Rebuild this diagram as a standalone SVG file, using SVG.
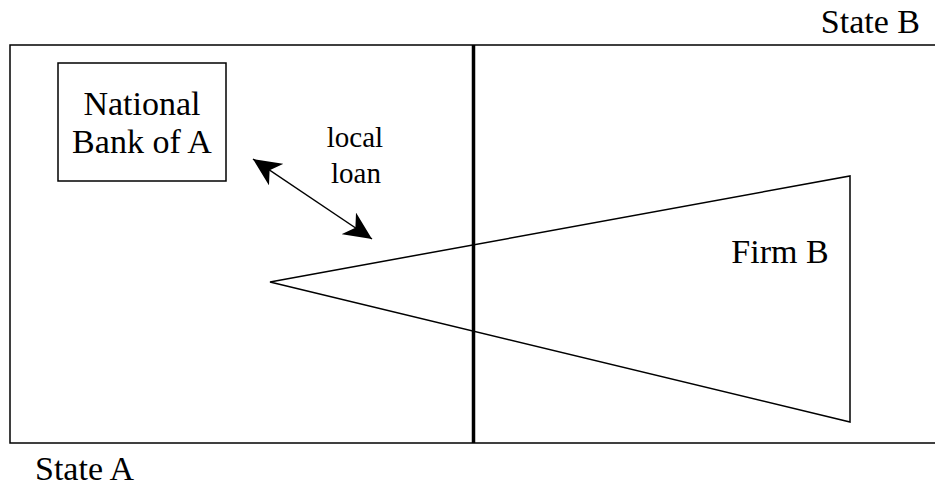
<svg xmlns="http://www.w3.org/2000/svg" width="935" height="486" viewBox="0 0 935 486">
<style>
text{font-family:"Liberation Serif","Times New Roman",serif;fill:#000}
.big{font-size:34px}
.sm{font-size:29px}
.ln{fill:none;stroke:#000;stroke-width:1.5}
</style>
<defs>
<marker id="ah" viewBox="0 0 28 26" refX="28" refY="13" markerWidth="28" markerHeight="26" markerUnits="userSpaceOnUse" orient="auto-start-reverse">
<path d="M0,0 L28,13 L0,26 L8,13 Z" fill="#000"/>
</marker>
</defs>
<rect width="935" height="486" fill="#fff"/>
<g id="stateB-region">
<rect class="ln" x="10" y="45" width="940" height="398"/>
<line x1="473.5" y1="45" x2="473.5" y2="443" stroke="#000" stroke-width="3.5"/>
</g>
<g id="bank">
<rect class="ln" x="58" y="63" width="168" height="118"/>
<text class="big" x="142" y="115" text-anchor="middle">National</text>
<text class="big" x="142" y="153" text-anchor="middle">Bank of A</text>
</g>
<g id="firm">
<polygon class="ln" points="270,282 850,176 850,422"/>
<text class="big" x="780" y="263" text-anchor="middle">Firm B</text>
</g>
<g id="connectors">
<line x1="253" y1="159" x2="372" y2="239" stroke="#000" stroke-width="1.5" marker-start="url(#ah)" marker-end="url(#ah)"/>
<text class="sm" x="355" y="147" text-anchor="middle">local</text>
<text class="sm" x="356" y="183" text-anchor="middle">loan</text>
</g>
<g id="labels">
<text class="big" x="920" y="33" text-anchor="end">State B</text>
<text class="big" x="35" y="480">State A</text>
</g>
</svg>
